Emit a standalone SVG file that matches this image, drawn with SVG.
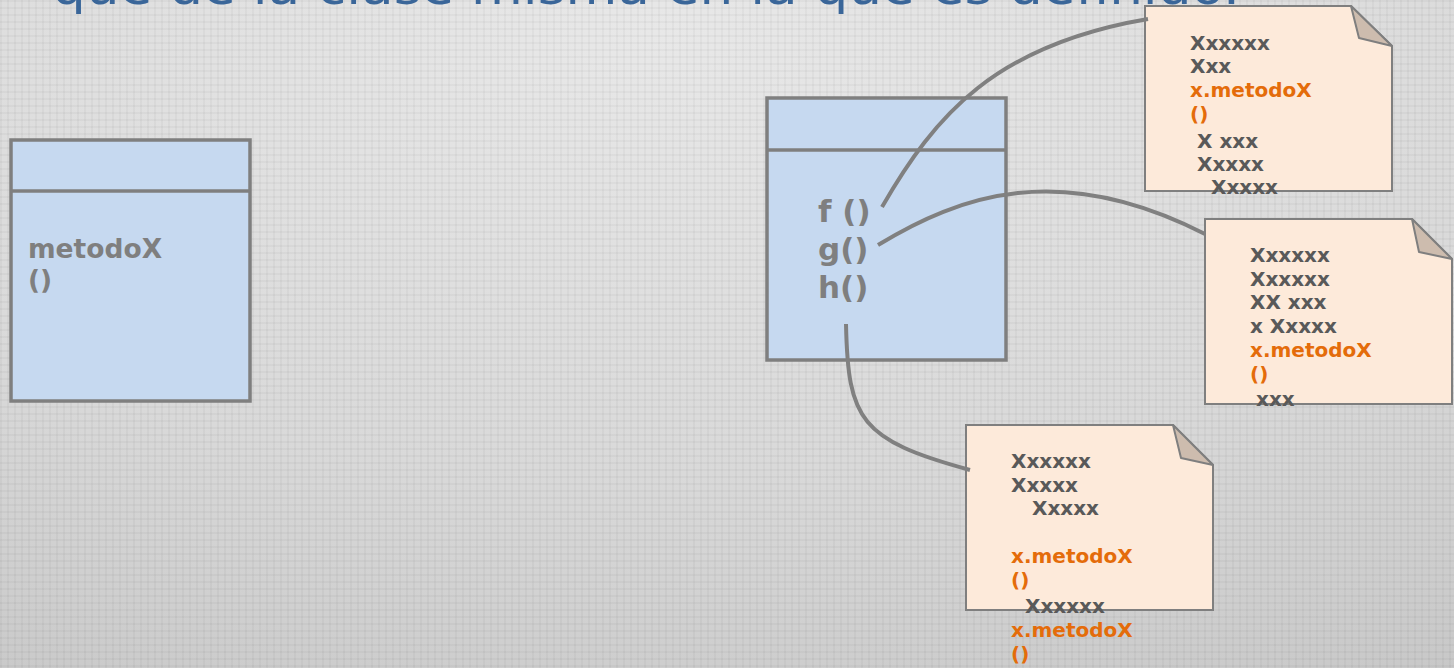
<svg xmlns="http://www.w3.org/2000/svg" width="1454" height="668" viewBox="0 0 1454 668">
  <defs>
    <radialGradient id="bg" cx="0.45" cy="0.05" r="1.1">
      <stop offset="0" stop-color="#e8e8e8"/>
      <stop offset="0.6" stop-color="#d9d9d9"/>
      <stop offset="1" stop-color="#c8c8c8"/>
    </radialGradient>
    <pattern id="grid" width="7" height="7" patternUnits="userSpaceOnUse">
      <rect x="0" y="0" width="7" height="2" fill="#000" fill-opacity="0.03"/>
      <rect x="0" y="0" width="2" height="7" fill="#000" fill-opacity="0.03"/>
    </pattern>
    <style>
      .cls { fill: #c6d9f0; stroke: #7f7f7f; stroke-width: 3.5; }
      .div { stroke: #7f7f7f; stroke-width: 3.5; }
      .note { fill: #fdeada; stroke: #7f7f7f; stroke-width: 2; }
      .fold { fill: #cdbcae; stroke: #7f7f7f; stroke-width: 2; stroke-linejoin: round; }
      .op { font-family: "DejaVu Sans", Verdana, sans-serif; font-weight: bold; fill: #7f7f7f; }
      .nt { font-family: "DejaVu Sans", Verdana, sans-serif; font-weight: bold; font-size: 20px; fill: #595959; }
      .call { fill: #e46c0a; }
      .link { fill: none; stroke: #808080; stroke-width: 4; }
    </style>
  </defs>

  <!-- slide background -->
  <rect width="1454" height="668" fill="url(#bg)"/>
  <rect width="1454" height="668" fill="url(#grid)"/>

  <!-- heading (continues above the visible area) -->
  <text x="52" y="4" font-family="DejaVu Sans, Verdana, sans-serif" font-size="50" fill="#3a6699" textLength="1188" lengthAdjust="spacingAndGlyphs">que de la clase misma en la que es definido.</text>

  <!-- class declaring metodoX() -->
  <g id="class-left">
    <rect class="cls" x="11" y="140" width="239" height="261"/>
    <line class="div" x1="11" y1="191" x2="250" y2="191"/>
    <text class="op" font-size="26.5" x="28" y="258">metodoX</text>
    <text class="op" font-size="26.5" x="28" y="289">()</text>
  </g>

  <!-- class with f, g, h -->
  <g id="class-right">
    <rect class="cls" x="767" y="98" width="239" height="262"/>
    <line class="div" x1="767" y1="150" x2="1006" y2="150"/>
    <text class="op" font-size="31" x="818" y="222">f ()</text>
    <text class="op" font-size="31" x="818" y="260">g()</text>
    <text class="op" font-size="31" x="818" y="298">h()</text>
  </g>

  <!-- body of f() -->
  <g id="note-f">
    <path class="note" d="M1145,6 H1351 L1392,46 V191 H1145 Z"/>
    <path class="fold" d="M1351,6 L1359,38 L1392,46 Z"/>
    <text class="nt" x="1190" y="50">Xxxxxx</text>
    <text class="nt" x="1190" y="73">Xxx</text>
    <text class="nt call" x="1190" y="97">x.metodoX</text>
    <text class="nt call" x="1190" y="121">()</text>
    <text class="nt" x="1197" y="148">X xxx</text>
    <text class="nt" x="1197" y="171">Xxxxx</text>
    <text class="nt" x="1211" y="194">Xxxxx</text>
  </g>

  <!-- body of g() -->
  <g id="note-g">
    <path class="note" d="M1205,219 H1412 L1452,259 V404 H1205 Z"/>
    <path class="fold" d="M1412,219 L1419,252 L1452,259 Z"/>
    <text class="nt" x="1250" y="262">Xxxxxx</text>
    <text class="nt" x="1250" y="286">Xxxxxx</text>
    <text class="nt" x="1250" y="309">XX xxx</text>
    <text class="nt" x="1250" y="333">x Xxxxx</text>
    <text class="nt call" x="1250" y="357">x.metodoX</text>
    <text class="nt call" x="1250" y="381">()</text>
    <text class="nt" x="1256" y="406">xxx</text>
  </g>

  <!-- body of h() -->
  <g id="note-h">
    <path class="note" d="M966,425 H1173 L1213,465 V610 H966 Z"/>
    <path class="fold" d="M1173,425 L1181,458 L1213,465 Z"/>
    <text class="nt" x="1011" y="468">Xxxxxx</text>
    <text class="nt" x="1011" y="492">Xxxxx</text>
    <text class="nt" x="1032" y="515">Xxxxx</text>
    <text class="nt call" x="1011" y="563">x.metodoX</text>
    <text class="nt call" x="1011" y="587">()</text>
    <text class="nt" x="1025" y="613">Xxxxxx</text>
    <text class="nt call" x="1011" y="637">x.metodoX</text>
    <text class="nt call" x="1011" y="661">()</text>
  </g>

  <!-- links from each operation to its body -->
  <g id="connectors">
    <path class="link" d="M882,207 C935,115 995,45 1148,19"/>
    <path class="link" d="M878,245 C960,195 1060,160 1205,234"/>
    <path class="link" d="M846,324 C848,420 860,440 970,470"/>
  </g>
</svg>
